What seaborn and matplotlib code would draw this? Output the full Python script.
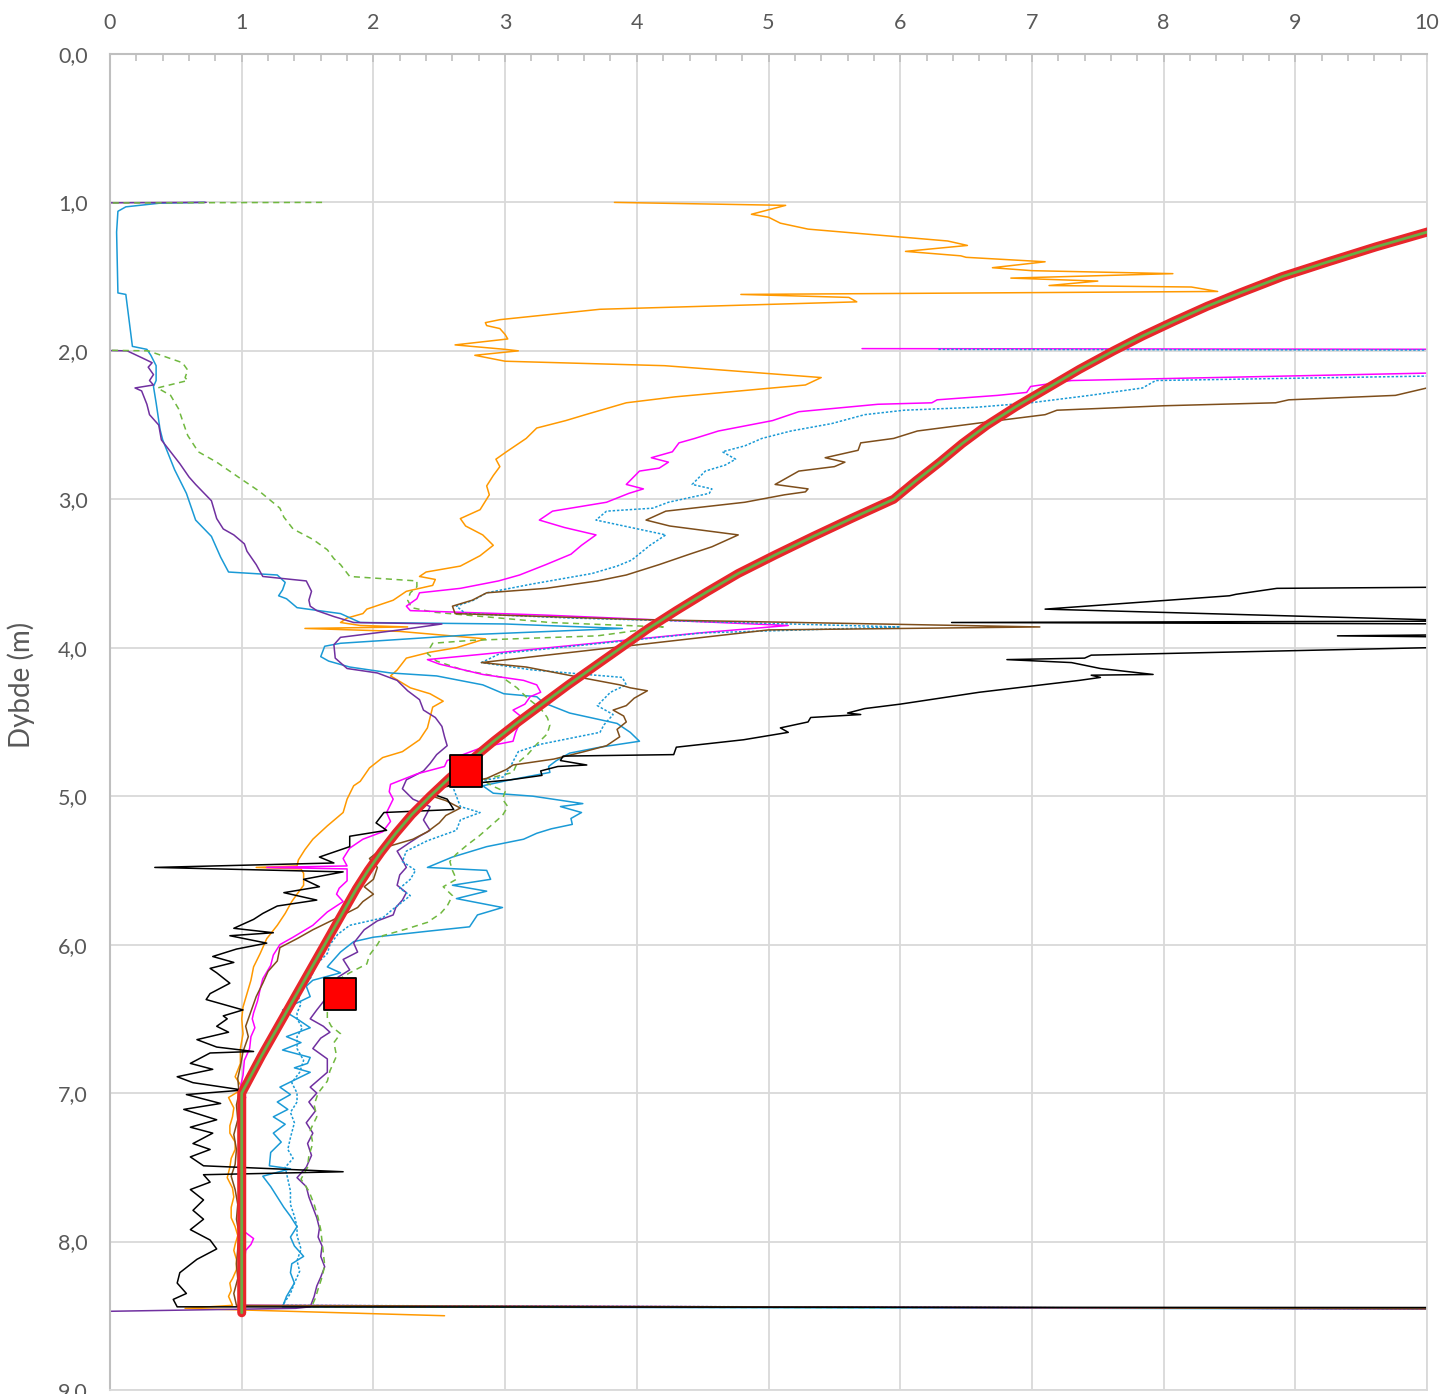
import numpy as np
import pandas as pd
import matplotlib
matplotlib.use("Agg")
import matplotlib.pyplot as plt
import seaborn as sns
from matplotlib.ticker import MultipleLocator, FuncFormatter

# --- data: depth (m) and reading for each sounding profile ---
orange_d = [1.0, 1.02, 1.08, 1.10, 1.14, 1.18, 1.26, 1.29, 1.33, 1.36, 1.37, 1.40, 1.44, 1.46, 1.48, 1.51, 1.53, 1.56,
            1.57, 1.60, 1.62, 1.64, 1.67, 1.72, 1.79, 1.81, 1.83, 1.85, 1.89, 1.92, 1.96, 1.99, 2.0, 2.03, 2.07, 2.10,
            2.18, 2.23, 2.25, 2.31, 2.35, 2.43, 2.47, 2.52, 2.59, 2.68, 2.73, 2.78, 2.84, 2.91, 2.97, 3.07, 3.13, 3.18,
            3.24, 3.31, 3.38, 3.45, 3.49, 3.52, 3.54, 3.58, 3.62, 3.68, 3.74, 3.77, 3.80, 3.83, 3.85, 3.86, 3.87, 3.89,
            3.94, 4.0, 4.03, 4.07, 4.15, 4.19, 4.27, 4.31, 4.36, 4.40, 4.47, 4.54, 4.62, 4.70, 4.74, 4.81, 4.90, 4.93,
            5.02, 5.11, 5.20, 5.29, 5.36, 5.43, 5.47, 5.48, 5.49, 5.52, 5.60, 5.66, 5.71, 5.79, 5.87, 5.96, 6.06, 6.15,
            6.24, 6.33, 6.42, 6.50, 6.60, 6.70, 6.80, 6.89, 6.97, 7.03, 7.10, 7.16, 7.22, 7.27, 7.33, 7.38, 7.44, 7.50,
            7.57, 7.64, 7.70, 7.77, 7.84, 7.90, 7.96, 8.02, 8.06, 8.12, 8.19, 8.25, 8.28, 8.33, 8.37, 8.43, 8.45, 8.50]
orange_x = [3.83, 5.13, 4.87, 5.0, 5.09, 5.30, 6.36, 6.51, 6.04, 6.46, 6.50, 7.10, 6.70, 7.0, 8.07, 6.84, 7.50, 7.13,
            8.21, 8.41, 4.79, 5.61, 5.67, 3.72, 2.96, 2.85, 2.86, 2.96, 3.0, 3.02, 2.62, 3.0, 3.10, 2.77, 3.0, 4.21,
            5.40, 5.28, 5.03, 4.29, 3.92, 3.61, 3.46, 3.24, 3.16, 3.01, 2.93, 2.96, 2.91, 2.86, 2.88, 2.81, 2.66, 2.70,
            2.83, 2.91, 2.81, 2.66, 2.40, 2.35, 2.47, 2.45, 2.25, 2.15, 1.95, 1.92, 1.80, 1.75, 1.90, 2.26, 1.48, 2.20,
            2.85, 2.63, 2.43, 2.25, 2.18, 2.13, 2.28, 2.43, 2.53, 2.45, 2.43, 2.41, 2.35, 2.22, 2.07, 1.97, 1.90, 1.85,
            1.80, 1.77, 1.65, 1.54, 1.48, 1.43, 1.42, 1.11, 1.45, 1.47, 1.47, 1.42, 1.38, 1.33, 1.27, 1.19, 1.14, 1.09,
            1.07, 1.04, 1.01, 1.0, 1.01, 0.99, 0.99, 0.95, 1.01, 0.90, 0.94, 0.93, 0.91, 0.91, 0.95, 0.95, 0.92, 0.91,
            0.89, 0.93, 0.94, 0.92, 0.92, 0.95, 0.97, 0.95, 0.94, 0.96, 0.96, 0.93, 0.91, 0.92, 0.90, 0.93, 0.57, 2.54]

blue_d = [1.0, 1.005, 1.03, 1.06, 1.2, 1.61, 1.62, 1.97, 1.99, 2.03, 2.1, 2.2, 2.24, 2.35, 2.53, 2.6, 2.8, 2.96, 3.14,
          3.25, 3.39, 3.49, 3.51, 3.56, 3.61, 3.65, 3.67, 3.73, 3.77, 3.83, 3.84, 3.87, 3.91, 3.97, 3.99, 4.06, 4.09,
          4.13, 4.17, 4.19, 4.25, 4.31, 4.33, 4.37, 4.44, 4.51, 4.57, 4.63, 4.67, 4.71, 4.76, 4.80, 4.84, 4.89, 4.93,
          4.98, 5.0, 5.05, 5.07, 5.11, 5.15, 5.19, 5.22, 5.25, 5.29, 5.34, 5.41, 5.48, 5.50, 5.56, 5.60, 5.64, 5.69,
          5.75, 5.80, 5.88, 5.91, 5.95, 5.98, 6.05, 6.15, 6.19, 6.24, 6.28, 6.35, 6.44, 6.50, 6.56, 6.62, 6.66, 6.71,
          6.76, 6.80, 6.83, 6.86, 6.96, 7.01, 7.06, 7.11, 7.16, 7.21, 7.27, 7.33, 7.40, 7.49, 7.51, 7.56, 7.63, 7.70,
          7.77, 7.83, 7.90, 7.97, 8.03, 8.10, 8.15, 8.21, 8.28, 8.37, 8.44, 8.455]
blue_x = [0.72, 0.38, 0.12, 0.06, 0.05, 0.06, 0.12, 0.17, 0.28, 0.31, 0.35, 0.35, 0.33, 0.35, 0.38, 0.40, 0.49, 0.58,
          0.65, 0.77, 0.84, 0.90, 1.27, 1.33, 1.31, 1.28, 1.34, 1.42, 1.75, 1.90, 3.0, 3.89, 2.79, 1.75, 1.63, 1.60,
          1.66, 1.82, 2.13, 2.48, 2.83, 2.99, 3.24, 3.29, 3.49, 3.85, 3.95, 4.02, 3.72, 3.49, 3.39, 3.33, 3.34, 3.04,
          2.83, 2.91, 3.21, 3.59, 3.42, 3.58, 3.50, 3.51, 3.35, 3.24, 3.14, 2.86, 2.60, 2.41, 2.86, 2.89, 2.60, 2.86,
          2.63, 2.98, 2.79, 2.73, 2.41, 2.0, 1.85, 1.75, 1.65, 1.75, 1.54, 1.49, 1.52, 1.31, 1.42, 1.52, 1.34, 1.45,
          1.31, 1.52, 1.50, 1.40, 1.52, 1.29, 1.37, 1.27, 1.35, 1.24, 1.33, 1.24, 1.30, 1.22, 1.21, 1.37, 1.16, 1.22,
          1.27, 1.32, 1.37, 1.42, 1.37, 1.40, 1.47, 1.38, 1.37, 1.40, 1.34, 1.31, 10.5]

purple_d = [1.0, 1.005, 1.99, 2.0, 2.05, 2.08, 2.11, 2.16, 2.2, 2.23, 2.25, 2.27, 2.36, 2.43, 2.5, 2.6, 2.68, 2.76,
            2.85, 2.90, 3.01, 3.13, 3.20, 3.24, 3.30, 3.35, 3.44, 3.52, 3.55, 3.62, 3.68, 3.72, 3.75, 3.79, 3.83, 3.84,
            3.88, 3.93, 3.98, 4.07, 4.14, 4.17, 4.22, 4.29, 4.35, 4.42, 4.47, 4.53, 4.60, 4.66, 4.72, 4.78, 4.83, 4.89,
            4.95, 5.02, 5.07, 5.11, 5.16, 5.23, 5.27, 5.31, 5.37, 5.43, 5.48, 5.53, 5.60, 5.65, 5.70, 5.75, 5.80, 5.84,
            5.90, 5.99, 6.05, 6.10, 6.17, 6.22, 6.27, 6.35, 6.44, 6.50, 6.55, 6.59, 6.63, 6.70, 6.77, 6.86, 6.96, 7.0,
            7.06, 7.12, 7.20, 7.27, 7.34, 7.42, 7.50, 7.57, 7.63, 7.70, 7.77, 7.84, 7.91, 7.97, 8.03, 8.10, 8.17, 8.24,
            8.30, 8.37, 8.44, 8.45, 8.47]
purple_x = [0.73, -0.5, -0.5, 0.13, 0.25, 0.32, 0.29, 0.33, 0.30, 0.33, 0.19, 0.24, 0.28, 0.30, 0.37, 0.39, 0.46,
            0.53, 0.60, 0.65, 0.77, 0.81, 0.86, 0.94, 1.02, 1.04, 1.11, 1.16, 1.49, 1.53, 1.51, 1.52, 1.57, 1.70, 1.85,
            2.52, 2.20, 1.75, 1.70, 1.71, 1.80, 2.03, 2.18, 2.26, 2.35, 2.38, 2.47, 2.52, 2.54, 2.56, 2.48, 2.43, 2.38,
            2.25, 2.22, 2.30, 2.43, 2.41, 2.38, 2.43, 2.35, 2.28, 2.18, 2.22, 2.25, 2.20, 2.18, 2.25, 2.22, 2.17, 2.15,
            2.03, 1.93, 1.85, 1.88, 1.77, 1.82, 1.73, 1.70, 1.65, 1.57, 1.52, 1.62, 1.67, 1.60, 1.54, 1.65, 1.65, 1.52,
            1.57, 1.51, 1.56, 1.49, 1.54, 1.50, 1.53, 1.49, 1.42, 1.49, 1.51, 1.54, 1.57, 1.59, 1.58, 1.61, 1.60, 1.63,
            1.60, 1.57, 1.55, 1.52, 1.41, 0.0]

green_d = [1.0, 1.005, 1.99, 2.0, 2.08, 2.13, 2.18, 2.20, 2.25, 2.30, 2.39, 2.52, 2.57, 2.68, 2.75, 2.86, 2.95, 3.06,
           3.12, 3.20, 3.27, 3.34, 3.40, 3.44, 3.52, 3.55, 3.59, 3.63, 3.68, 3.73, 3.76, 3.83, 3.86, 3.92, 3.95, 3.97,
           4.0, 4.04, 4.09, 4.15, 4.20, 4.27, 4.34, 4.41, 4.47, 4.52, 4.58, 4.65, 4.72, 4.78, 4.84, 4.89, 4.93, 4.97,
           5.02, 5.07, 5.13, 5.20, 5.27, 5.33, 5.39, 5.44, 5.50, 5.56, 5.61, 5.67, 5.74, 5.79, 5.85, 5.90, 5.94, 6.0,
           6.07, 6.13, 6.19, 6.27, 6.34, 6.41, 6.50, 6.55, 6.60, 6.66, 6.75, 6.85, 6.92, 7.0, 7.08, 7.16, 7.25, 7.34,
           7.42, 7.50, 7.58, 7.66, 7.75, 7.84, 7.92, 8.0, 8.08, 8.16, 8.24, 8.32, 8.38, 8.44, 8.45]
green_x = [1.61, -0.5, -0.5, 0.29, 0.55, 0.59, 0.57, 0.59, 0.36, 0.46, 0.52, 0.57, 0.59, 0.67, 0.81, 0.99, 1.14, 1.29,
           1.32, 1.39, 1.54, 1.65, 1.70, 1.75, 1.82, 2.33, 2.33, 2.28, 2.26, 2.29, 2.45, 3.34, 4.2, 3.70, 2.75, 2.45,
           2.43, 2.41, 2.48, 2.68, 2.98, 3.09, 3.17, 3.27, 3.32, 3.34, 3.32, 3.24, 3.17, 3.09, 3.06, 2.83, 2.90, 3.0,
           2.98, 3.02, 2.98, 2.89, 2.80, 2.71, 2.63, 2.58, 2.60, 2.63, 2.53, 2.60, 2.56, 2.51, 2.41, 2.23, 2.07, 2.03,
           1.97, 1.95, 1.82, 1.67, 1.66, 1.65, 1.65, 1.68, 1.75, 1.70, 1.72, 1.67, 1.65, 1.58, 1.55, 1.57, 1.52, 1.54,
           1.51, 1.50, 1.45, 1.51, 1.55, 1.58, 1.60, 1.61, 1.62, 1.63, 1.61, 1.58, 1.56, 1.53, 10.5]

magenta_d = [1.985, 1.99, 2.14, 2.15, 2.20, 2.24, 2.28, 2.30, 2.33, 2.35, 2.36, 2.41, 2.47, 2.54, 2.59, 2.62, 2.68,
             2.72, 2.75, 2.79, 2.81, 2.90, 2.93, 2.96, 3.02, 3.08, 3.14, 3.19, 3.24, 3.31, 3.37, 3.44, 3.51, 3.55, 3.60,
             3.63, 3.67, 3.72, 3.75, 3.78, 3.85, 3.90, 4.08, 4.11, 4.18, 4.22, 4.25, 4.30, 4.33, 4.38, 4.42, 4.47, 4.51,
             4.57, 4.63, 4.67, 4.71, 4.76, 4.80, 4.85, 4.92, 4.97, 5.02, 5.11, 5.17, 5.24, 5.29, 5.35, 5.42, 5.47, 5.48,
             5.49, 5.57, 5.62, 5.66, 5.71, 5.78, 5.87, 5.95, 6.0, 6.07, 6.14, 6.23, 6.30, 6.38, 6.46, 6.50, 6.56, 6.62,
             6.70, 6.78, 6.88, 6.96, 7.03, 7.10, 7.18, 7.27, 7.36, 7.43, 7.50, 7.58, 7.65, 7.73, 7.84, 7.92, 7.98, 8.02,
             8.06, 8.14, 8.22, 8.30, 8.38, 8.43, 8.455]
magenta_x = [5.71, 10.5, 10.5, 10.0, 7.3, 6.99, 6.96, 6.74, 6.28, 6.24, 5.83, 5.23, 5.03, 4.62, 4.44, 4.32, 4.27,
             4.11, 4.24, 4.17, 4.02, 3.92, 4.05, 3.94, 3.77, 3.36, 3.26, 3.45, 3.69, 3.58, 3.50, 3.31, 3.11, 2.95, 2.66,
             2.35, 2.33, 2.25, 2.28, 3.3, 5.15, 4.48, 2.41, 2.50, 2.83, 3.14, 3.24, 3.27, 3.19, 3.15, 3.06, 3.13, 3.11,
             3.08, 3.06, 2.83, 2.71, 2.56, 2.54, 2.33, 2.13, 2.12, 2.15, 2.10, 2.13, 2.07, 1.92, 1.82, 1.77, 1.80, 1.19,
             1.80, 1.80, 1.74, 1.72, 1.77, 1.65, 1.54, 1.39, 1.29, 1.24, 1.22, 1.16, 1.14, 1.12, 1.09, 1.08, 1.10, 1.07,
             1.06, 1.02, 1.01, 0.99, 1.03, 0.99, 1.01, 1.00, 1.01, 0.99, 0.97, 1.0, 0.99, 1.00, 1.01, 1.00, 1.09, 1.07,
             1.03, 1.02, 1.00, 1.01, 1.0, 1.03, 10.5]

bdot_d = [1.99, 1.995, 2.16, 2.17, 2.20, 2.25, 2.30, 2.35, 2.38, 2.40, 2.43, 2.49, 2.54, 2.59, 2.64, 2.68, 2.73, 2.77,
          2.81, 2.90, 2.93, 2.96, 3.02, 3.06, 3.08, 3.14, 3.24, 3.31, 3.41, 3.45, 3.50, 3.57, 3.63, 3.68, 3.72, 3.77,
          3.80, 3.86, 3.90, 4.04, 4.10, 4.15, 4.20, 4.25, 4.30, 4.39, 4.45, 4.52, 4.57, 4.65, 4.70, 4.80, 4.87, 4.93,
          5.0, 5.07, 5.11, 5.16, 5.23, 5.30, 5.37, 5.44, 5.50, 5.56, 5.62, 5.67, 5.76, 5.82, 5.87, 5.93, 6.0, 6.06,
          6.13, 6.23, 6.33, 6.40, 6.46, 6.50, 6.56, 6.62, 6.70, 6.78, 6.86, 6.93, 7.0, 7.06, 7.13, 7.20, 7.30, 7.38,
          7.44, 7.50, 7.58, 7.66, 7.75, 7.83, 7.90, 7.96, 8.05, 8.13, 8.20, 8.28, 8.35, 8.43, 8.455]
bdot_x = [6.29, 10.5, 10.5, 10.0, 7.94, 7.84, 7.44, 6.99, 6.58, 6.03, 5.73, 5.48, 5.17, 4.95, 4.82, 4.65, 4.75, 4.67,
          4.52, 4.42, 4.57, 4.55, 4.24, 4.12, 3.77, 3.69, 4.22, 4.10, 3.96, 3.85, 3.66, 3.21, 2.86, 2.76, 2.63, 2.70,
          3.5, 6.0, 4.5, 2.96, 2.82, 3.21, 3.89, 3.92, 3.80, 3.70, 3.82, 3.75, 3.72, 3.27, 3.10, 3.04, 2.99, 2.60,
          2.63, 2.66, 2.81, 2.66, 2.63, 2.41, 2.25, 2.22, 2.32, 2.28, 2.20, 2.28, 2.15, 2.07, 1.82, 1.73, 1.67, 1.65,
          1.57, 1.52, 1.42, 1.45, 1.42, 1.42, 1.46, 1.42, 1.42, 1.47, 1.44, 1.38, 1.42, 1.42, 1.37, 1.40, 1.37, 1.35,
          1.39, 1.33, 1.35, 1.37, 1.37, 1.40, 1.42, 1.42, 1.45, 1.42, 1.44, 1.40, 1.37, 1.31, 10.5]

brown_d = [2.24, 2.25, 2.30, 2.33, 2.35, 2.37, 2.40, 2.43, 2.47, 2.54, 2.59, 2.62, 2.67, 2.72, 2.75, 2.78, 2.81, 2.90,
           2.93, 2.95, 2.97, 3.02, 3.08, 3.14, 3.18, 3.24, 3.32, 3.37, 3.44, 3.51, 3.55, 3.60, 3.63, 3.68, 3.72, 3.77,
           3.81, 3.86, 3.88, 4.10, 4.13, 4.20, 4.25, 4.27, 4.29, 4.34, 4.39, 4.42, 4.46, 4.50, 4.55, 4.60, 4.66, 4.70,
           4.75, 4.79, 4.82, 4.88, 4.94, 4.99, 5.03, 5.08, 5.13, 5.18, 5.24, 5.29, 5.35, 5.42, 5.48, 5.56, 5.61, 5.66,
           5.71, 5.75, 5.80, 5.90, 5.96, 6.02, 6.11, 6.18, 6.26, 6.35, 6.45, 6.55, 6.62, 6.72, 6.82, 6.90, 7.0, 7.08,
           7.18, 7.28, 7.38, 7.48, 7.56, 7.65, 7.75, 7.85, 7.95, 8.05, 8.15, 8.25, 8.35, 8.43, 8.455]
brown_x = [10.5, 10.0, 9.76, 8.95, 8.85, 8.0, 7.19, 7.10, 6.74, 6.13, 5.95, 5.70, 5.68, 5.43, 5.58, 5.50, 5.23, 5.05,
           5.30, 5.28, 5.12, 4.82, 4.22, 4.07, 4.25, 4.77, 4.57, 4.40, 4.17, 3.92, 3.70, 3.31, 2.86, 2.75, 2.60, 2.62,
           4.0, 7.06, 5.0, 2.82, 3.16, 3.57, 3.87, 3.95, 4.08, 3.98, 3.92, 3.82, 3.90, 3.92, 3.85, 3.87, 3.77, 3.60,
           3.37, 3.06, 3.01, 2.86, 2.53, 2.41, 2.55, 2.66, 2.55, 2.50, 2.41, 2.30, 2.07, 1.97, 2.03, 2.0, 1.93, 2.0,
           1.92, 1.88, 1.77, 1.54, 1.42, 1.29, 1.27, 1.20, 1.16, 1.11, 1.07, 1.03, 1.05, 1.01, 0.99, 0.97, 0.98, 0.96,
           0.97, 0.94, 0.96, 0.95, 0.92, 0.95, 0.97, 0.96, 0.98, 0.97, 0.96, 0.97, 0.94, 0.96, 10.5]

black_d = [3.59, 3.60, 3.64, 3.65, 3.74, 3.81, 3.82, 3.83, 3.84, 3.91, 3.92, 3.93, 3.99, 4.05, 4.07, 4.08, 4.10, 4.14,
           4.18, 4.185, 4.20, 4.22, 4.30, 4.38, 4.41, 4.44, 4.45, 4.47, 4.50, 4.54, 4.57, 4.62, 4.67, 4.72, 4.73, 4.76,
           4.79, 4.80, 4.83, 4.86, 4.89, 4.93, 4.98, 5.02, 5.09, 5.11, 5.18, 5.23, 5.27, 5.34, 5.41, 5.45, 5.48, 5.51,
           5.56, 5.61, 5.65, 5.70, 5.74, 5.79, 5.83, 5.89, 5.92, 5.94, 5.99, 6.03, 6.08, 6.12, 6.16, 6.19, 6.26, 6.33,
           6.37, 6.44, 6.48, 6.50, 6.55, 6.59, 6.64, 6.69, 6.72, 6.73, 6.80, 6.84, 6.89, 6.93, 6.98, 7.01, 7.07, 7.11,
           7.18, 7.23, 7.27, 7.34, 7.38, 7.43, 7.49, 7.53, 7.55, 7.60, 7.65, 7.72, 7.79, 7.85, 7.92, 7.99, 8.05, 8.12,
           8.21, 8.28, 8.35, 8.39, 8.44, 8.445]
black_x = [10.5, 8.86, 8.55, 8.5, 7.1, 9.95, 10.5, 6.39, 10.5, 10.5, 9.32, 10.5, 10.5, 7.45, 7.40, 6.81, 7.30, 7.52,
           7.92, 7.45, 7.52, 7.36, 6.6, 6.0, 5.73, 5.60, 5.70, 5.32, 5.30, 5.09, 5.15, 4.81, 4.30, 4.28, 3.44, 3.42,
           3.62, 3.40, 3.27, 3.28, 3.04, 2.56, 2.43, 2.56, 2.61, 2.08, 2.02, 2.10, 1.82, 1.82, 1.59, 1.70, 0.34, 1.77,
           1.47, 1.59, 1.32, 1.57, 1.27, 1.16, 1.09, 0.94, 1.24, 0.91, 1.19, 0.96, 0.78, 0.94, 0.76, 0.81, 0.91, 0.76,
           0.73, 1.01, 0.86, 0.89, 0.81, 0.90, 0.66, 0.81, 1.09, 0.76, 0.61, 0.78, 0.51, 0.63, 1.01, 0.58, 0.84, 0.56,
           0.81, 0.61, 0.78, 0.63, 0.76, 0.61, 0.71, 1.77, 0.71, 0.76, 0.61, 0.71, 0.63, 0.71, 0.61, 0.76, 0.81, 0.66,
           0.53, 0.51, 0.58, 0.48, 0.51, 10.5]

# design curve (thick red/green band) and the two marked points
curve_d = [1.1, 1.2, 1.3, 1.4, 1.5, 1.61, 1.7, 1.8, 1.9, 2.0, 2.125, 2.25, 2.375, 2.5, 2.625, 2.75, 2.875, 3.0,
           3.125, 3.25, 3.375, 3.5, 3.625, 3.75, 3.875, 4.0, 4.125, 4.25, 4.375, 4.5, 4.625, 4.75, 4.875, 5.0,
           5.125, 5.25, 5.375, 5.5, 5.625, 5.75, 5.875, 6.0, 6.125, 6.25, 6.375, 6.5, 6.625, 6.75, 6.875, 7.0, 8.48]
curve_x = [10.4, 10.0, 9.61, 9.25, 8.90, 8.58, 8.33, 8.08, 7.84, 7.62, 7.36, 7.12, 6.88, 6.66, 6.47, 6.30, 6.12, 5.95,
           5.64, 5.34, 5.05, 4.77, 4.53, 4.30, 4.08, 3.88, 3.68, 3.48, 3.29, 3.10, 2.92, 2.75, 2.58, 2.43,
           2.29, 2.17, 2.06, 1.96, 1.87, 1.79, 1.71, 1.63, 1.55, 1.47, 1.39, 1.31, 1.23, 1.15, 1.075, 1.0, 1.0]
marker_d = [4.83, 6.33]
marker_x = [2.70, 1.75]

ticks_x = list(range(0, 11))
ticks_y = list(range(0, 10))

sns.set_style("white")
plt.rcParams["font.family"] = ["Lato", "DejaVu Sans"]

fig = plt.figure(figsize=(14.4, 13.94), dpi=100)
ax = fig.add_axes([0.0764, 0.0029, 0.9146, 0.9584])

def profile(xs, ds, color, ls="-", lw=1.1, z=2):
    sns.lineplot(x=xs, y=ds, sort=False, estimator=None, color=color,
                 linewidth=lw, linestyle=ls, ax=ax, zorder=z)

profile(orange_x, orange_d, "#FF9900")
profile(blue_x, blue_d, "#1A9AD6")
profile(purple_x, purple_d, "#7030A0")
profile(green_x, green_d, "#70B83F", ls=(0, (4, 3)))
profile(magenta_x, magenta_d, "#FF00FF")
profile(bdot_x, bdot_d, "#1A9AD6", ls=(0, (1.6, 1.2)))
profile(brown_x, brown_d, "#7E4E1B")
profile(black_x, black_d, "#000000")

# thick red band with green core
sns.lineplot(x=curve_x, y=curve_d, sort=False, estimator=None, color="#E8262B",
             linewidth=6.5, solid_capstyle="round", solid_joinstyle="round", ax=ax, zorder=5)
sns.lineplot(x=curve_x, y=curve_d, sort=False, estimator=None, color="#6AAE45",
             linewidth=2.0, solid_joinstyle="round", ax=ax, zorder=6)
sns.scatterplot(x=marker_x, y=marker_d, marker="s", s=540, color="#FF0000",
                edgecolor="black", linewidth=1.3, ax=ax, zorder=10)

ax.set_xlim(0, 10)
ax.set_ylim(9, 0)
ax.xaxis.tick_top()
ax.set_xticks(ticks_x)
ax.set_yticks(ticks_y)
ax.xaxis.set_minor_locator(MultipleLocator(0.2))
ax.yaxis.set_major_formatter(FuncFormatter(lambda v, p: f"{v:.1f}".replace(".", ",")))
ax.grid(True, which="major", color="#D9D9D9", linewidth=1.3)
ax.set_axisbelow(True)

ax.tick_params(axis="x", which="major", top=True, direction="in", length=6, width=1.2,
               color="#BFBFBF", labelsize=15.5, labelcolor="#595959", pad=15)
ax.tick_params(axis="x", which="minor", top=True, direction="in", length=5, width=1.2, color="#BFBFBF")
ax.tick_params(axis="y", which="major", length=0, labelsize=15.5, labelcolor="#595959", pad=16)

for side in ["left", "top"]:
    ax.spines[side].set_color("#BFBFBF")
    ax.spines[side].set_linewidth(1.5)
for side in ["right", "bottom"]:
    ax.spines[side].set_color("#D9D9D9")
    ax.spines[side].set_linewidth(1.3)

ax.set_xlabel("")
ax.set_ylabel("Dybde (m)", fontsize=20, color="#595959")
ax.yaxis.set_label_coords(-0.057, 0.528)

fig.savefig("out.png", dpi=100)
